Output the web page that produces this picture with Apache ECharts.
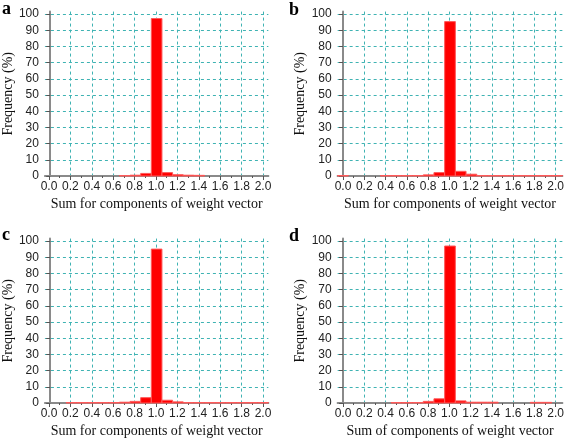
<!DOCTYPE html>
<html>
<head>
<meta charset="utf-8">
<script src="https://cdn.jsdelivr.net/npm/echarts@6/dist/echarts.min.js"></script>
<style>html,body{margin:0;padding:0;background:#fff}#c{width:567px;height:442px}</style>
</head>
<body>
<div id="c"></div>
<script>
// Bin centres (sum of weight-vector components), bin width 0.1
const binCenters = [0.0,0.1,0.2,0.3,0.4,0.5,0.6,0.7,0.8,0.9,1.0,1.1,1.2,1.3,1.4,1.5,1.6,1.7,1.8,1.9,2.0];
// Frequency (%) per bin for each panel
const freqA = [0,0,0,0,0,0,0,0.3,0.5,1.6,97.2,2.1,0.8,0.5,0.4,0,0,0,0,0,0];
const freqB = [0.3,0,0,0,0.3,0.3,0.3,0.3,0.7,2.1,95.3,2.9,1.1,0.3,0.3,0.3,0.3,0.3,0.3,0.3,0.3];
const freqC = [0,0,0.3,0.3,0.3,0.3,0.3,0.5,1.0,3.3,95.0,1.7,0.7,0.3,0.3,0.3,0.3,0.3,0.3,0.3,0.3];
const freqD = [0,0,0,0,0,0.3,0.3,0.3,1.0,2.6,96.9,1.3,0.5,0.5,0.5,0,0,0,0.4,0.4,0];
const yTicks = [0,10,20,30,40,50,60,70,80,90,100];
const panelLetters = ['a','b','c','d'];
const xTitles = ['Sum for components of weight vector','Sum for components of weight vector','Sum for components of weight vector','Sum of components of weight vector'];
const yTitle = 'Frequency (%)';
const panelData = [freqA, freqB, freqC, freqD];

// layout (pixel positions of 0.0 / 2.0 and 0 / 100)
const layout = [
  {x0:49, x2:263, y0:176, y100:14, lx:2, ly:0},
  {x0:343, x2:557, y0:176, y100:14, lx:289, ly:1},
  {x0:49, x2:263, y0:403, y100:241, lx:2, ly:226},
  {x0:343, x2:557, y0:403, y100:241, lx:289, ly:227}
];

const gridColor = '#3fb3b3';
const axisColor = '#8a8a8a';
const labelFont = {fontFamily:'Liberation Sans', fontSize:12, color:'#222'};
const serif = 'Liberation Serif';

const grids = [], xAxes = [], yAxes = [], series = [], titles = [];
layout.forEach((L, i) => {
  const ppu = (L.x2 - L.x0) / 2;
  const ppy = (L.y0 - L.y100) / 100;
  const top = L.y100 - 1.5 * ppy;
  const height = 101.5 * ppy;
  grids.push({left: L.x0 - 0.05 * ppu, width: 2.1 * ppu, top: top, height: height, containLabel:false});
  grids.push({left: L.x0, width: 2 * ppu, top: top, height: height, containLabel:false});
  const go = 2 * i, gi = 2 * i + 1;
  xAxes.push({
    gridIndex: go, type:'value', min:-0.05, max:2.05,
    axisLine:{show:true, onZero:false, lineStyle:{color:axisColor, width:2}},
    axisTick:{show:false}, axisLabel:{show:false}, splitLine:{show:false},
    name: xTitles[i], nameLocation:'middle', nameGap:21,
    nameTextStyle:{fontFamily:serif, fontSize:14, color:'#111'}
  });
  xAxes.push({
    gridIndex: gi, type:'value', min:0, max:2, interval:0.2,
    axisLine:{show:false},
    axisTick:{show:true, length:4, lineStyle:{color:'#555', width:1}},
    minorTick:{show:true, splitNumber:2, length:2, lineStyle:{color:'#555', width:1}},
    axisLabel:{show:true, margin:5, ...labelFont, formatter: v => v.toFixed(1)},
    splitLine:{show:true, lineStyle:{color:gridColor, type:[3,3], width:1}}
  });
  yAxes.push({
    gridIndex: go, type:'value', min:0, max:101.5, interval:10,
    axisLine:{show:true, lineStyle:{color:axisColor, width:2}},
    axisTick:{show:true, length:4, customValues:yTicks, lineStyle:{color:'#555', width:1}},
    axisLabel:{show:true, margin:6, customValues:yTicks, ...labelFont},
    splitLine:{show:true, lineStyle:{color:gridColor, type:[3,3], width:1}},
    name: yTitle, nameLocation:'middle', nameGap:28, nameRotate:90,
    nameTextStyle:{fontFamily:serif, fontSize:14, color:'#111'}
  });
  yAxes.push({gridIndex: gi, type:'value', min:0, max:101.5, show:false});
  series.push({
    type:'custom', xAxisIndex: 2*i, yAxisIndex: 2*i, z:3, clip:false,
    data: binCenters.map((c, k) => [c, panelData[i][k]]),
    renderItem: (params, api) => {
      const x = api.value(0), y = api.value(1);
      if (!y) return null;
      const p1 = api.coord([x - 0.05, y]);
      const p2 = api.coord([x + 0.05, 0]);
      return {type:'rect', shape:{x:p1[0], y:p1[1], width:p2[0]-p1[0], height:p2[1]-p1[1]},
              style:{fill:'#ff0000', stroke:'#ff5a5a', lineWidth:1}};
    }
  });
  titles.push({text: panelLetters[i], left: L.lx, top: L.ly, padding:0,
    textStyle:{fontFamily:serif, fontSize:18, fontWeight:'bold', color:'#000'}});
});

const chart = echarts.init(document.getElementById('c'), null, {renderer:'canvas'});
chart.setOption({
  animation:false,
  backgroundColor:'#fff',
  title: titles,
  grid: grids,
  xAxis: xAxes,
  yAxis: yAxes,
  series: series
});
</script>
</body>
</html>
